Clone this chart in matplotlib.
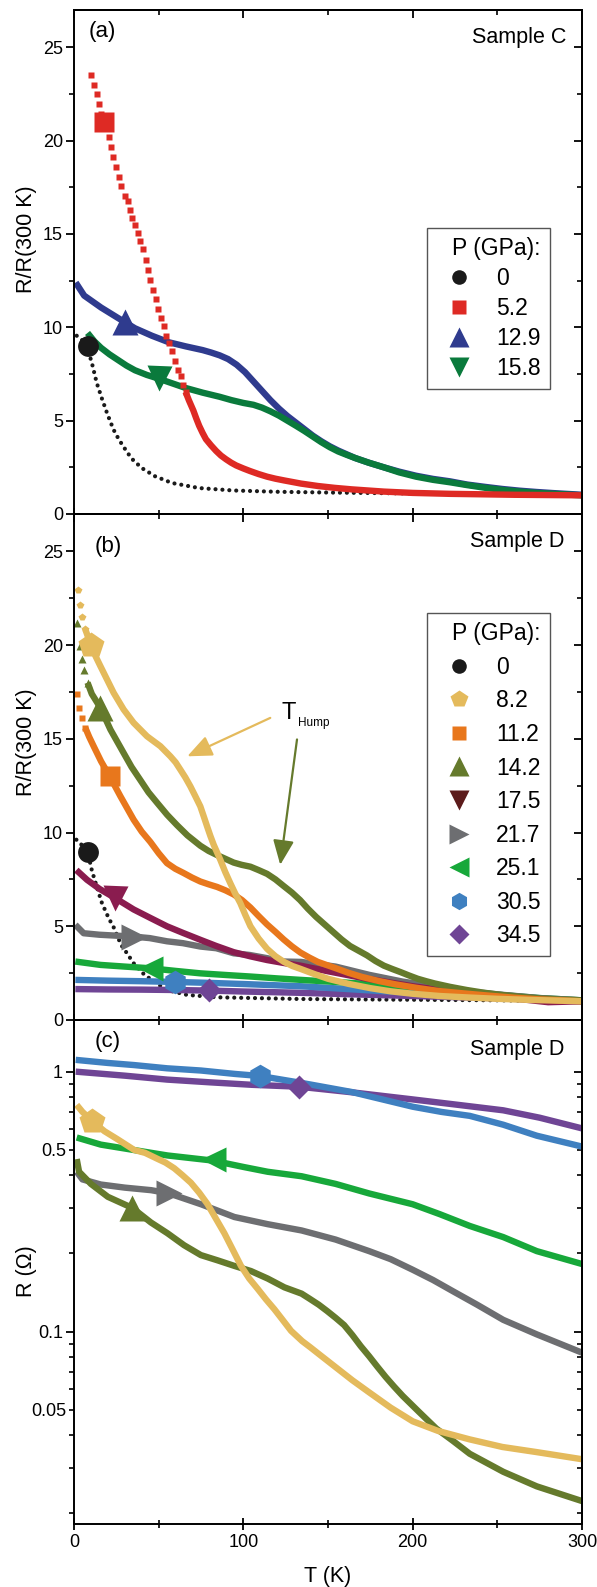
import numpy as np
import matplotlib
matplotlib.use("Agg")
import matplotlib.pyplot as plt
from matplotlib.ticker import (MultipleLocator, FixedLocator, LogLocator,
                               FuncFormatter, NullFormatter)
from matplotlib.lines import Line2D

plt.rcParams['font.family'] = ['Liberation Sans', 'DejaVu Sans']

# ---------------- Panel (a): Sample C, R/R(300 K) ----------------
A_LABELS = ['0', '5.2', '12.9', '15.8']

A0_T = [1.6, 5.0, 8.0, 11.0, 13.4, 16.5, 19.3, 21.6, 23.9, 26.4, 28.9, 33.9, 39.9, 47.9,
        57.9, 73.9, 94.0, 120.0, 150.0, 200.0, 250.0, 300.0]
A0_R = [9.55, 9.3, 8.9, 7.93, 7.03, 6.18, 5.46, 4.91, 4.42, 4.01, 3.65, 2.98, 2.47, 2.02,
        1.66, 1.39, 1.26, 1.19, 1.15, 1.1, 1.05, 1.0]

A52_T = [10.0, 12.0, 13.4, 14.6, 16.0, 18.0, 20.5, 21.9, 23.3, 24.9, 26.3, 27.9, 30.3, 31.7,
         32.9, 34.5, 35.9, 37.5, 38.9, 40.5, 42.3, 43.5, 45.1, 46.9, 48.3, 49.9, 51.5, 52.9,
         54.3, 55.9, 57.9, 59.9, 61.5, 62.9, 64.5, 65.9, 67.9, 70.5, 72.2, 73.9, 75.9, 77.9,
         80.9, 83.9, 86.8, 89.8, 92.8, 95.8, 100.0, 104.0, 109.0, 114.0, 119.0, 124.0, 134.0,
         144.0, 154.0, 164.0, 183.0, 200.0, 222.0, 260.0, 300.0]
A52_R = [23.5, 23.0, 22.5, 21.95, 21.45, 21.0, 20.2, 19.65, 19.1, 18.6, 18.07, 17.56, 17.06, 16.75,
         16.3, 15.88, 15.48, 15.07, 14.63, 14.17, 13.61, 13.08, 12.54, 12.0, 11.51, 10.97, 10.52, 10.06,
         9.52, 9.16, 8.71, 8.22, 7.71, 7.39, 6.9, 6.54, 6.08, 5.54, 5.12, 4.73, 4.35, 4.01,
         3.68, 3.38, 3.13, 2.93, 2.75, 2.6, 2.44, 2.3, 2.14, 2.0, 1.89, 1.8, 1.63,
         1.5, 1.4, 1.32, 1.2, 1.13, 1.08, 1.03, 1.0]

A129_T = [1, 6, 16, 26, 36, 46, 56, 66, 76, 81, 86, 91, 96, 101, 106, 111, 116, 121, 126, 131,
          136, 141, 146, 151, 156, 161, 166, 174, 183, 192, 202, 212, 222, 232, 243, 253, 263,
          273, 283, 300]
A129_R = [12.4, 11.7, 11.06, 10.5, 9.95, 9.55, 9.2, 8.98, 8.78, 8.65, 8.5, 8.3, 8.0, 7.6, 7.1,
          6.6, 6.1, 5.65, 5.25, 4.9, 4.55, 4.2, 3.9, 3.63, 3.4, 3.2, 3.0, 2.75, 2.5, 2.27,
          2.05, 1.88, 1.75, 1.58, 1.45, 1.34, 1.25, 1.18, 1.12, 1.03]

A158_T = [8, 12, 16, 21, 26, 31, 36, 43, 50, 58, 66, 76, 86, 93, 100, 106, 111, 116, 121, 126,
          131, 136, 141, 146, 151, 156, 161, 166, 174, 183, 192, 202, 212, 222, 232, 243, 253,
          263, 273, 283, 300]
A158_R = [9.7, 9.25, 8.9, 8.55, 8.25, 7.95, 7.7, 7.45, 7.25, 7.0, 6.75, 6.5, 6.28, 6.1, 5.95,
          5.85, 5.7, 5.5, 5.27, 5.0, 4.73, 4.45, 4.15, 3.85, 3.58, 3.35, 3.17, 3.0, 2.75, 2.5,
          2.23, 2.0, 1.83, 1.7, 1.55, 1.4, 1.29, 1.2, 1.13, 1.08, 1.0]

A_BIG_T = [8, 18, 30, 50]
A_BIG_R = [9.0, 21.0, 10.3, 7.3]

# ---------------- Panel (b): Sample D, R/R(300 K) ----------------
B_LABELS = ['0', '8.2', '11.2', '14.2', '17.5', '21.7', '25.1', '30.5', '34.5']

B0_T = [1.4, 5, 8.1, 10.6, 13.5, 16.5, 20.5, 23.4, 27.8, 31.3, 35.2, 41.1, 47.1, 54.9, 66.7,
        84.5, 134, 200, 250, 300]
B0_R = [9.62, 9.3, 8.96, 7.96, 7.1, 6.24, 5.43, 4.95, 4.01, 3.56, 3.03, 2.46, 2.05, 1.6, 1.34,
        1.21, 1.12, 1.08, 1.05, 1.0]

B82_T = [2.2, 3.3, 4.9, 6.7, 10.0, 12.8, 15.6, 19.5, 23.4, 29.3, 35.2, 43.1, 51.0, 56.9, 60.0,
         62.8, 65.7, 68.7, 71.6, 74.6, 76.6, 78.6, 80.5, 82.5, 86.4, 89.3, 92.3, 95.2, 98.2,
         101.2, 104.2, 109, 114, 119, 124, 129, 134, 142, 150, 162, 175, 187, 200, 216, 233,
         250, 270, 300]
B82_R = [22.95, 22.13, 21.5, 20.84, 20.0, 19.4, 18.88, 18.17, 17.46, 16.57, 15.86, 15.14, 14.61,
         14.07, 13.75, 13.36, 12.95, 12.47, 11.95, 11.4, 10.87, 10.33, 9.83, 9.35, 8.55, 7.9,
         7.3, 6.75, 6.24, 5.6, 5.0, 4.35, 3.8, 3.4, 3.1, 2.88, 2.72, 2.45, 2.2, 1.93, 1.7,
         1.53, 1.4, 1.28, 1.2, 1.13, 1.07, 1.0]

B112_T = [1.8, 3.2, 4.7, 6.7, 9, 11.6, 16, 21.1, 27.4, 35.2, 40, 45.1, 50, 54.9, 59.8, 64.8,
          69.7, 74.6, 79.5, 84.5, 89.4, 94.3, 99.2, 104.2, 109, 114, 119, 123.8, 128.7, 133.7,
          139, 144, 155, 162, 170, 180, 190, 202, 215, 230, 245, 260, 275, 300]
B112_R = [17.42, 16.66, 16.12, 15.59, 15.1, 14.61, 13.8, 13.0, 11.94, 10.69, 10.05, 9.5, 8.9,
          8.37, 8.07, 7.84, 7.6, 7.39, 7.24, 7.1, 6.92, 6.7, 6.4, 6.0, 5.55, 5.1, 4.7, 4.3,
          3.93, 3.6, 3.33, 3.1, 2.75, 2.52, 2.3, 2.08, 1.9, 1.72, 1.55, 1.42, 1.3, 1.19, 1.1,
          1.0]

B142_T = [1.8, 3.3, 4.7, 5.7, 8, 10.5, 15.6, 21.5, 29.3, 34, 39.2, 44, 49.0, 55, 60.8, 67,
          74.6, 79.5, 84.5, 89.4, 94.3, 99, 104.2, 109, 114, 119, 123.8, 128.7, 133.5, 138,
          143, 148, 153, 158, 163, 168, 173, 178, 183, 188, 193, 198, 203, 208, 213, 222, 232,
          241, 251, 263, 275, 287, 300]
B142_R = [21.2, 19.95, 19.24, 18.7, 18.0, 17.4, 16.66, 15.5, 14.25, 13.5, 12.8, 12.15, 11.6,
          10.95, 10.4, 9.85, 9.3, 9.02, 8.8, 8.6, 8.4, 8.28, 8.18, 8.0, 7.8, 7.5, 7.15, 6.8,
          6.4, 5.95, 5.5, 5.1, 4.7, 4.3, 3.95, 3.7, 3.45, 3.15, 2.9, 2.72, 2.55, 2.37, 2.2,
          2.07, 1.95, 1.77, 1.6, 1.47, 1.35, 1.24, 1.15, 1.09, 1.05]

B175_T = [1.4, 7.7, 15, 24.4, 35.2, 45, 54.9, 64.3, 74.6, 84, 94.3, 104, 114, 123.4, 133.7,
          150, 170, 200, 230, 260, 280, 300]
B175_R = [8.0, 7.48, 7.0, 6.5, 5.9, 5.45, 5.0, 4.65, 4.28, 3.95, 3.62, 3.4, 3.2, 3.05, 2.9,
          2.6, 2.25, 1.8, 1.45, 1.15, 0.95, 1.0]

B217_T = [0.8, 5.7, 15, 25, 35.2, 44.7, 54.9, 64.3, 74.6, 84, 94.3, 103.7, 114, 123.4, 134,
          154.5, 174.3, 194, 214, 234, 253.5, 275, 300]
B217_R = [5.08, 4.63, 4.55, 4.5, 4.45, 4.37, 4.2, 4.1, 3.92, 3.83, 3.56, 3.47, 3.3, 3.12, 3.1,
          2.85, 2.41, 2.05, 1.78, 1.51, 1.34, 1.17, 1.05]

B251_T = [0.8, 15.6, 30, 45.1, 60, 74.6, 90, 104.2, 120, 134, 160, 180, 200, 225, 250, 275, 300]
B251_R = [3.12, 2.94, 2.85, 2.76, 2.62, 2.49, 2.4, 2.32, 2.22, 2.14, 2.0, 1.88, 1.75, 1.55,
          1.35, 1.17, 1.05]

B305_T = [0.8, 20, 40, 59.9, 80, 100, 120, 134, 160, 180, 200, 225, 250, 275, 300]
B305_R = [2.14, 2.1, 2.07, 2.03, 1.98, 1.92, 1.85, 1.8, 1.66, 1.55, 1.45, 1.33, 1.22, 1.1, 1.0]

B345_T = [0.8, 20, 40, 60, 79.5, 100, 120, 134, 160, 180, 200, 225, 250, 275, 300]
B345_R = [1.65, 1.63, 1.62, 1.6, 1.57, 1.52, 1.48, 1.45, 1.38, 1.33, 1.28, 1.22, 1.16, 1.08, 1.0]

B_BIG_T = [8.1, 10.0, 21.1, 15.6, 24.4, 35.2, 45.1, 59.9, 79.5]
B_BIG_R = [8.96, 20.0, 13.0, 16.66, 6.5, 4.45, 2.76, 2.05, 1.6]

# ---------------- Panel (c): Sample D, R (Ohm) ----------------
C82_T = [1.6, 5, 10.8, 18, 25.6, 35.5, 42, 49.3, 54, 59.2, 64, 69, 74, 78.9, 83.8, 88.8, 93.7,
         98.6, 103.5, 108.5, 113.4, 118.3, 123.2, 128.2, 134.7, 139.6, 144.6, 154.5, 164.4,
         174.3, 187, 200, 215, 233.7, 253, 273.3, 300]
C82_R = [0.745, 0.70, 0.645, 0.59, 0.55, 0.50, 0.487, 0.462, 0.447, 0.425, 0.40, 0.374, 0.342,
         0.309, 0.272, 0.239, 0.207, 0.179, 0.16, 0.146, 0.133, 0.122, 0.111, 0.1007, 0.092,
         0.087, 0.082, 0.073, 0.065, 0.0584, 0.051, 0.0452, 0.0415, 0.0385, 0.036, 0.0344,
         0.0323]

C142_T = [1.6, 3, 10, 20, 34.5, 45.4, 55.2, 65, 74.9, 84.8, 94.7, 104.5, 114.4, 124.3, 134.4,
          139, 144.5, 149.5, 154.5, 159.5, 164.4, 169.3, 174.3, 179, 184, 189, 194.1, 203.9,
          213.9, 223.8, 233.7, 253.5, 273.3, 300]
C142_R = [0.461, 0.412, 0.37, 0.33, 0.299, 0.263, 0.239, 0.215, 0.197, 0.188, 0.179, 0.171,
          0.16, 0.148, 0.14, 0.134, 0.127, 0.12, 0.113, 0.106, 0.097, 0.088, 0.0804, 0.0735,
          0.067, 0.0615, 0.0566, 0.049, 0.0424, 0.038, 0.0339, 0.0289, 0.0254, 0.0223]

C217_T = [1.6, 5, 15.8, 30, 45.6, 56.2, 75, 94.7, 114.4, 134.4, 154.5, 174.3, 187, 200, 212,
          223.8, 238, 253.5, 273.3, 300]
C217_R = [0.412, 0.385, 0.368, 0.358, 0.350, 0.340, 0.309, 0.276, 0.259, 0.245, 0.226, 0.204,
          0.19, 0.173, 0.158, 0.143, 0.127, 0.111, 0.0976, 0.083]

C251_T = [1.6, 15.8, 35, 55.2, 81.9, 100, 114.4, 134.4, 154.5, 174.3, 200, 216, 233.7, 253.5,
          273.3, 300]
C251_R = [0.558, 0.524, 0.50, 0.476, 0.455, 0.43, 0.412, 0.396, 0.37, 0.34, 0.309, 0.283,
          0.255, 0.231, 0.204, 0.182]

C305_T = [1, 20, 35.5, 55, 75, 95, 110, 134.4, 164, 200, 217, 233.7, 253.5, 273.3, 300]
C305_R = [1.11, 1.08, 1.06, 1.03, 1.01, 0.98, 0.962, 0.905, 0.835, 0.733, 0.70, 0.676, 0.625,
          0.567, 0.515]

C345_T = [1, 30, 55, 80, 105, 133, 164, 200, 227, 253.5, 275, 300]
C345_R = [1.0, 0.965, 0.932, 0.91, 0.89, 0.875, 0.833, 0.782, 0.745, 0.71, 0.665, 0.605]

C_BIG_T = [10.8, 34.5, 56.2, 81.9, 110, 133]
C_BIG_R = [0.645, 0.299, 0.340, 0.461, 0.962, 0.875]

# ---------------- styles ----------------
BLACK = '#1a1a1a'
A_COLORS = [BLACK, '#DE2A24', '#2F3B8E', '#0A7A3C']
A_MARKERS = ['o', 's', '^', 'v']
B_COLORS = [BLACK, '#E4BA5C', '#E8771C', '#657A2C', '#8A1C4F', '#6D6E71', '#17A83A',
            '#3F80C0', '#6F4595']
B_LEG_COLORS = [BLACK, '#E4BA5C', '#E8771C', '#657A2C', '#5C1B1B', '#6D6E71', '#17A83A',
                '#3F80C0', '#6F4595']
B_MARKERS = ['o', 'p', 's', '^', 'v', '>', '<', 'h', 'D']
BIG_MS = {'o': 15, 's': 14, '^': 19, 'v': 18, 'p': 19, '>': 19, '<': 18, 'h': 17, 'D': 12.5}
LEG_MS = {'o': 10.5, 's': 10, '^': 14, 'v': 14, 'p': 13, '>': 14, '<': 14, 'h': 12.5, 'D': 10.5}
LW = 4.6

W, H = 597, 1587
fig = plt.figure(figsize=(W / 100, H / 100), dpi=100)
left = 74 / W
width = (582 - 74) / W
axa = fig.add_axes([left, 1 - 514 / H, width, 504 / H])
axb = fig.add_axes([left, 1 - 1020 / H, width, 506 / H])
axc = fig.add_axes([left, 1 - 1524 / H, width, 504 / H])


def dotted(ax, T, R, color):
    ax.plot(T, R, color=color, lw=3.0, ls=(0, (0.01, 1.65)), dash_capstyle='round',
            solid_capstyle='round')


def series(ax, T, R, color, marker, sparse_until=None, sparse_ms=4.5):
    T = np.asarray(T, float)
    R = np.asarray(R, float)
    if sparse_until is not None:
        m = T <= sparse_until
        ax.plot(T[m], R[m], ls='none', marker=marker, ms=sparse_ms, color=color, mec='none')
        idx = max(int(np.argmax(T > sparse_until)) - 1, 0)
        ax.plot(T[idx:], R[idx:], color=color, lw=LW, solid_capstyle='butt',
                solid_joinstyle='round')
    else:
        ax.plot(T, R, color=color, lw=LW, solid_capstyle='butt', solid_joinstyle='round')


def big(ax, t, r, color, marker):
    ax.plot([t], [r], ls='none', marker=marker, ms=BIG_MS[marker], color=color, mec='none',
            zorder=5)


def style_axis(ax, logy=False, xlabels=False):
    for s in ax.spines.values():
        s.set_linewidth(1.4)
    ax.set_xlim(0, 300)
    ax.xaxis.set_major_locator(MultipleLocator(100))
    ax.xaxis.set_minor_locator(MultipleLocator(50))
    ax.tick_params(axis='x', which='major', direction='inout', length=9, width=1.3,
                   top=False, labelbottom=xlabels, labelsize=13, pad=3)
    ax.tick_params(axis='x', which='minor', direction='inout', length=6, width=1.2, top=False)
    ax.tick_params(axis='y', which='major', direction='out', length=6, width=1.3,
                   right=False, labelsize=13, pad=2)
    ax.tick_params(axis='y', which='minor', direction='out', length=3.5, width=1.2,
                   right=False, labelsize=13, pad=2)
    secx = ax.secondary_xaxis('top')
    secx.xaxis.set_major_locator(MultipleLocator(100))
    secx.xaxis.set_minor_locator(MultipleLocator(50))
    secx.xaxis.set_major_formatter(NullFormatter())
    secx.tick_params(axis='x', which='major', direction='in', length=6, width=1.3)
    secx.tick_params(axis='x', which='minor', direction='in', length=3.5, width=1.2)
    secx.spines['top'].set_linewidth(1.4)
    secy = ax.secondary_yaxis('right')
    if logy:
        secy.yaxis.set_major_locator(FixedLocator([0.1, 1.0]))
        secy.yaxis.set_minor_locator(LogLocator(base=10, subs=np.arange(2, 10) * 1.0, numticks=20))
        secy.yaxis.set_minor_formatter(NullFormatter())
    else:
        secy.yaxis.set_major_locator(MultipleLocator(5))
        secy.yaxis.set_minor_locator(MultipleLocator(2.5))
    secy.yaxis.set_major_formatter(NullFormatter())
    secy.tick_params(axis='y', which='major', direction='in', length=6, width=1.3)
    secy.tick_params(axis='y', which='minor', direction='in', length=3.5, width=1.2)
    secy.spines['right'].set_linewidth(1.4)


def legend(ax, handles, anchor_y, spacing):
    leg = ax.legend(handles=handles, title='P (GPa):', loc='upper left',
                    bbox_to_anchor=(0.695, anchor_y), borderaxespad=0, fontsize=16.5,
                    title_fontsize=16.5, frameon=True, fancybox=False, edgecolor='#555555',
                    framealpha=1, labelspacing=spacing, handlelength=2.0, handletextpad=0.6,
                    borderpad=0.4)
    leg.get_frame().set_linewidth(1.0)
    leg._legend_box.align = 'right'
    return leg


# ---------------- draw (a) ----------------
dotted(axa, A0_T, A0_R, A_COLORS[0])
series(axa, A129_T, A129_R, A_COLORS[2], '^')
series(axa, A158_T, A158_R, A_COLORS[3], 'v')
series(axa, A52_T, A52_R, A_COLORS[1], 's', sparse_until=66, sparse_ms=4.6)
for t, r, c, m in zip(A_BIG_T, A_BIG_R, A_COLORS, A_MARKERS):
    big(axa, t, r, c, m)
axa.set_ylim(0, 27)
axa.yaxis.set_major_locator(MultipleLocator(5))
axa.yaxis.set_minor_locator(MultipleLocator(2.5))
style_axis(axa)
axa.set_ylabel('R/R(300 K)', fontsize=15.5)
axa.yaxis.set_label_coords(-0.072, 0.546)
axa.text(0.028, 0.958, '(a)', transform=axa.transAxes, fontsize=16, ha='left', va='center')
axa.text(0.97, 0.946, 'Sample C', transform=axa.transAxes, fontsize=15.5, ha='right',
         va='center')
hA = [Line2D([], [], ls='none', marker=m, color=c, mec='none', ms=LEG_MS[m], label=l)
      for m, c, l in zip(A_MARKERS, A_COLORS, A_LABELS)]
legend(axa, hA, 0.567, 0.3)

# ---------------- draw (b) ----------------
dotted(axb, B0_T, B0_R, B_COLORS[0])
series(axb, B345_T, B345_R, B_COLORS[8], 'D')
series(axb, B305_T, B305_R, B_COLORS[7], 'h')
series(axb, B251_T, B251_R, B_COLORS[6], '<')
series(axb, B217_T, B217_R, B_COLORS[5], '>')
series(axb, B175_T, B175_R, B_COLORS[4], 'v')
series(axb, B142_T, B142_R, B_COLORS[3], '^', sparse_until=8, sparse_ms=5.5)
series(axb, B112_T, B112_R, B_COLORS[2], 's', sparse_until=7, sparse_ms=4.6)
series(axb, B82_T, B82_R, B_COLORS[1], 'p', sparse_until=7, sparse_ms=6)
for t, r, c, m in zip(B_BIG_T, B_BIG_R, B_COLORS, B_MARKERS):
    big(axb, t, r, c, m)
axb.set_ylim(0, 27)
axb.yaxis.set_major_locator(MultipleLocator(5))
axb.yaxis.set_minor_locator(MultipleLocator(2.5))
style_axis(axb)
axb.set_ylabel('R/R(300 K)', fontsize=15.5)
axb.yaxis.set_label_coords(-0.072, 0.55)
axb.text(0.041, 0.935, '(b)', transform=axb.transAxes, fontsize=16, ha='left', va='center')
axb.text(0.965, 0.945, 'Sample D', transform=axb.transAxes, fontsize=15.5, ha='right',
         va='center')
hB = [Line2D([], [], ls='none', marker=m, color=c, mec='none', ms=LEG_MS[m], label=l)
      for m, c, l in zip(B_MARKERS, B_LEG_COLORS, B_LABELS)]
legend(axb, hB, 0.804, 0.46)
# T_Hump annotation
axb.annotate('', xy=(66.9, 14.07), xytext=(115.9, 16.12),
             arrowprops=dict(arrowstyle='-|>,head_length=0.75,head_width=0.32',
                             color=B_COLORS[1], lw=1.6, mutation_scale=20,
                             shrinkA=0, shrinkB=0))
axb.annotate('', xy=(121.8, 8.28), xytext=(131.7, 14.97),
             arrowprops=dict(arrowstyle='-|>,head_length=0.75,head_width=0.32',
                             color=B_COLORS[3], lw=1.6, mutation_scale=20,
                             shrinkA=0, shrinkB=0))
axb.text(122.7, 16.05, 'T', fontsize=17, ha='left', va='baseline')
axb.text(132.5, 15.7, 'Hump', fontsize=8.5, ha='left', va='baseline')

# ---------------- draw (c) ----------------
axc.set_yscale('log')
series(axc, C345_T, C345_R, B_COLORS[8], 'D')
series(axc, C305_T, C305_R, B_COLORS[7], 'h')
series(axc, C251_T, C251_R, B_COLORS[6], '<')
series(axc, C217_T, C217_R, B_COLORS[5], '>')
series(axc, C142_T, C142_R, B_COLORS[3], '^')
series(axc, C82_T, C82_R, B_COLORS[1], 'p')
C_COLORS = [B_COLORS[1], B_COLORS[3], B_COLORS[5], B_COLORS[6], B_COLORS[7], B_COLORS[8]]
C_MARKERS = ['p', '^', '>', '<', 'h', 'D']
for t, r, c, m in zip(C_BIG_T, C_BIG_R, C_COLORS, C_MARKERS):
    big(axc, t, r, c, m)
axc.set_ylim(0.0182, 1.58)
axc.yaxis.set_major_locator(FixedLocator([0.1, 1.0]))
axc.yaxis.set_minor_locator(LogLocator(base=10, subs=np.arange(2, 10) * 1.0, numticks=20))
axc.yaxis.set_major_formatter(FuncFormatter(lambda v, p: '%g' % v))
axc.yaxis.set_minor_formatter(FuncFormatter(
    lambda v, p: ('%g' % v) if (abs(v - 0.5) < 1e-6 or abs(v - 0.05) < 1e-7) else ''))
style_axis(axc, logy=True, xlabels=True)
axc.set_ylabel('R (\u03a9)', fontsize=15.5)
axc.yaxis.set_label_coords(-0.072, 0.502)
axc.set_xlabel('T (K)', fontsize=15.5)
axc.xaxis.set_label_coords(0.5, -0.083)
axc.text(0.041, 0.957, '(c)', transform=axc.transAxes, fontsize=16, ha='left', va='center')
axc.text(0.965, 0.942, 'Sample D', transform=axc.transAxes, fontsize=15.5, ha='right',
         va='center')

fig.savefig('out.png', dpi=100)
